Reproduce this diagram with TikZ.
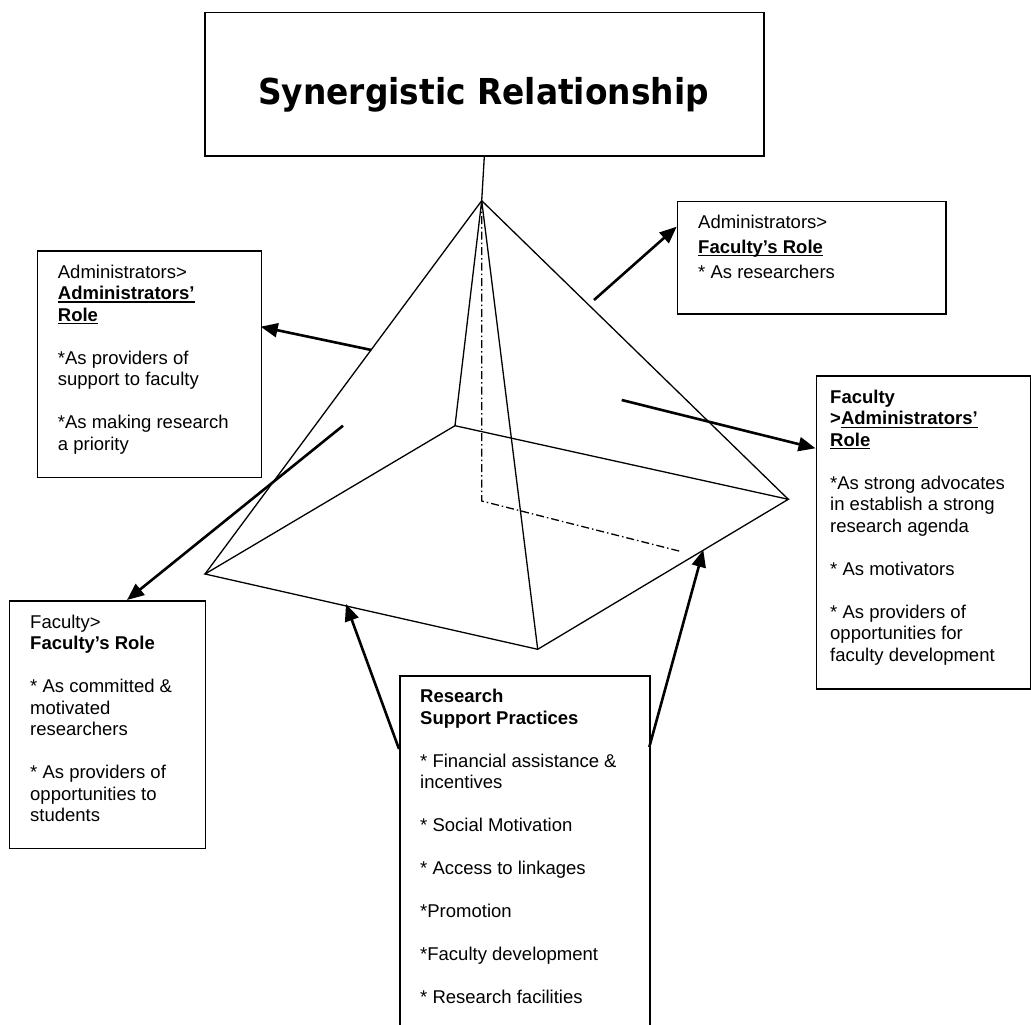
\documentclass[tikz,border=0pt]{standalone}
\usepackage{fontspec}
\setmainfont{Liberation Sans}
\newfontfamily\titlefont[FakeStretch=0.92]{DejaVu Sans}
\usetikzlibrary{arrows.meta}
\newcommand\myul[1]{\setbox0\hbox{#1}\leavevmode\rlap{\rule[-3pt]{\wd0}{1.2pt}}\box0}
\newcommand\tx[2]{\begin{minipage}[t]{#1}\raggedright #2\end{minipage}}
\tikzset{
  boxn/.style={draw, line width=1.6pt, anchor=north west, inner sep=0pt},
  txt/.style={anchor=base west, inner sep=0pt, font=\fontsize{18.5}{21.5}\selectfont},
  pyr/.style={line width=1.3pt, line join=miter},
  hid/.style={line width=1.3pt, dash pattern=on 8pt off 3pt on 1.5pt off 3pt},
  arr/.style={line width=2.6pt, -{Triangle[length=17pt,width=14pt]}},
}
\begin{document}
\begin{tikzpicture}[x=1pt,y=-1pt]
\useasboundingbox (0,0) rectangle (1031,1025);
% pyramid
\coordinate (apex) at (481.7,200.7);
\coordinate (L) at (205,574);
\coordinate (B) at (455,425.7);
\coordinate (R) at (788.3,499.3);
\coordinate (F) at (537.7,649.3);
\coordinate (H) at (481.7,501);
\coordinate (D) at (681.7,551.7);
\draw[pyr] (L) -- (B) -- (R) -- (F) -- cycle;
\draw[pyr] (apex) -- (L);
\draw[pyr] (apex) -- (B);
\draw[pyr] (apex) -- (R);
\draw[pyr] (apex) -- (F);
\draw[hid] (apex) -- (H) -- (D);
% title
\node[boxn, minimum width=559pt, minimum height=143.5pt] (title) at (204,11.7) {};
\node[anchor=base, inner sep=0pt, font=\titlefont\bfseries\fontsize{35.7}{40}\selectfont] (titletext) at (483.5,104.3) {Synergistic Relationship};
\draw[pyr] (title.south) -- (apex);
% boxes
\node[boxn, minimum width=224pt, minimum height=226.7pt] (admA) at (36.7,250) {};
\node[txt] (admAt) at (57.7,278) {\tx{200pt}{Administrators>\\
\textbf{\myul{Administrators’}}\\
\textbf{\myul{Role}}\\[21.5pt]
{*}As providers of\\
support to faculty\\[21.5pt]
{*}As making research\\
a priority}};

\node[boxn, minimum width=268.3pt, minimum height=112.6pt] (adminFac) at (676.7,200.7) {};
\node[txt, font=\fontsize{18.5}{25}\selectfont] (adminFact) at (698,228.3) {\tx{240pt}{Administrators>\\
\textbf{\myul{Faculty’s Role}}\\
{*} As researchers}};

\node[boxn, minimum width=214.5pt, minimum height=313.3pt] (facAdmin) at (815.5,375) {};
\node[txt] (facAdmint) at (830,403.3) {\tx{200pt}{\textbf{Faculty}\\
\textbf{>\myul{Administrators’}}\\
\textbf{\myul{Role}}\\[21.5pt]
{*}As strong advocates\\
in establish a strong\\
research agenda\\[21.5pt]
{*} As motivators\\[21.5pt]
{*} As providers of\\
opportunities for\\
faculty development}};

\node[boxn, minimum width=196pt, minimum height=247.7pt] (facFac) at (8.7,600) {};
\node[txt] (facFact) at (30,628.3) {\tx{180pt}{Faculty>\\
\textbf{Faculty’s Role}\\[21.5pt]
{*} As committed \&\\
motivated\\
researchers\\[21.5pt]
{*} As providers of\\
opportunities to\\
students}};

\node[boxn, minimum width=250.3pt, minimum height=360pt] (rsp) at (399,675) {};
\node[txt] (rspt) at (420,702.7) {\tx{225pt}{\textbf{Research}\\
\textbf{Support Practices}\\[21.5pt]
{*} Financial assistance \&\\
incentives\\[21.5pt]
{*} Social Motivation\\[21.5pt]
{*} Access to linkages\\[21.5pt]
{*}Promotion\\[21.5pt]
{*}Faculty development\\[21.5pt]
{*} Research facilities}};

% arrows
\coordinate (a1s) at (371.4,350);
\coordinate (a1t) at (260.7,326.7);
\coordinate (a2s) at (594,300);
\coordinate (a2t) at (676.7,226.7);
\coordinate (a3s) at (621.7,400);
\coordinate (a3t) at (815.5,448.3);
\coordinate (a4s) at (343,425.7);
\coordinate (a4t) at (127,600);
\coordinate (a5s) at (399,749);
\coordinate (a5t) at (346,604);
\coordinate (a6s) at (649.3,747);
\coordinate (a6t) at (703.3,550);
\draw[arr] (a1s) -- (a1t);
\draw[arr] (a2s) -- (a2t);
\draw[arr] (a3s) -- (a3t);
\draw[arr] (a4s) -- (a4t);
\draw[arr] (a5s) -- (a5t);
\draw[arr] (a6s) -- (a6t);
\end{tikzpicture}
\end{document}
